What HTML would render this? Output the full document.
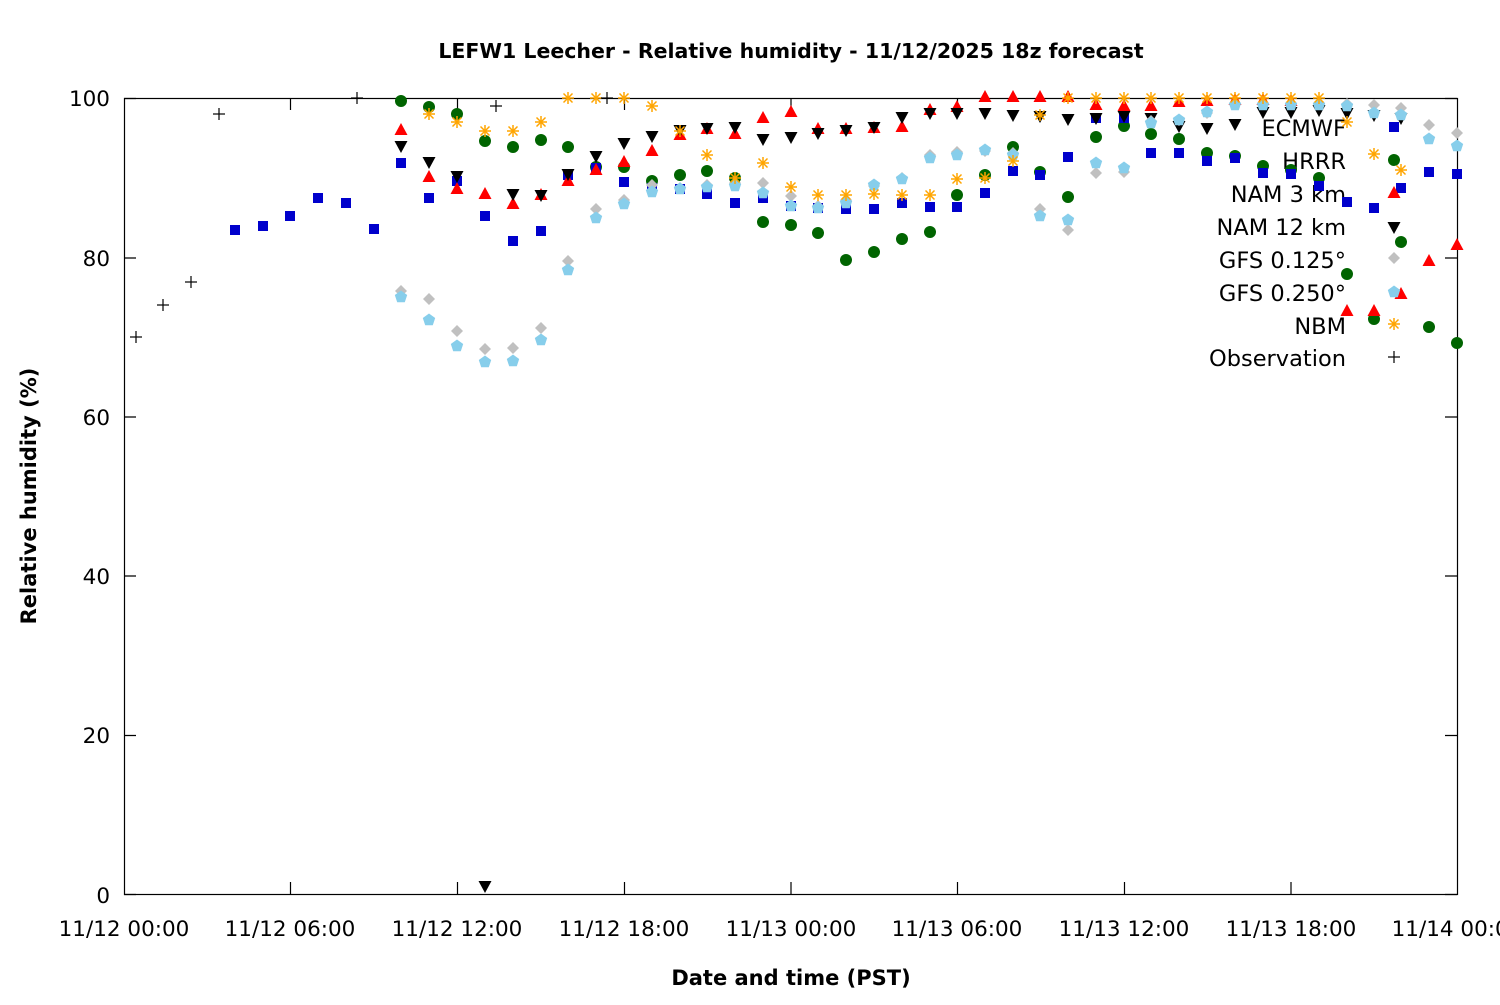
<!DOCTYPE html>
<html><head><meta charset="utf-8"><style>
html,body{margin:0;padding:0;background:#fff;}
svg text{font-family:"DejaVu Sans","Liberation Sans",sans-serif;}
</style></head><body>
<svg width="1500" height="1000" viewBox="0 0 1500 1000" xmlns="http://www.w3.org/2000/svg">
<defs>
<circle id="c" r="6" fill="#006400"/>
<rect id="s" x="-5" y="-5" width="10" height="10" fill="#0000cc"/>
<polygon id="u" points="0,-7 6.5,5 -6.5,5" fill="#ff0000"/>
<polygon id="d" points="0,7 6.5,-5 -6.5,-5" fill="#000"/>
<polygon id="g" points="0,-6 6,0 0,6 -6,0" fill="#c0c0c0"/>
<polygon id="p" points="0,-6.5 6.2,-2 3.8,5.3 -3.8,5.3 -6.2,-2" fill="#87ceeb"/>
<g id="x" stroke="#ffa500" stroke-width="1.5"><line x1="-6" y1="0" x2="6" y2="0"/><line x1="0" y1="-6" x2="0" y2="6"/><line x1="-4.5" y1="-4.5" x2="4.5" y2="4.5"/><line x1="-4.5" y1="4.5" x2="4.5" y2="-4.5"/></g>
<g id="o" stroke="#000" stroke-width="1.2"><line x1="-6" y1="0" x2="6" y2="0"/><line x1="0" y1="-6" x2="0" y2="6"/></g>
</defs>
<text x="791" y="58" font-size="20.5" font-weight="bold" text-anchor="middle">LEFW1 Leecher - Relative humidity - 11/12/2025 18z forecast</text>
<g stroke="#000" stroke-width="1.2" fill="none">
<rect x="124.5" y="98.5" width="1333" height="796"/>
<path d="M124 98.5h12M124 258h12M124 417h12M124 576h12M124 735.5h12M124 894.5h12M1457 98.5h-12M1457 258h-12M1457 417h-12M1457 576h-12M1457 735.5h-12M1457 894.5h-12"/>
<path d="M290.5 894v-12M457.5 894v-12M624.5 894v-12M791 894v-12M957.5 894v-12M1124.5 894v-12M1291 894v-12M290.5 98v12M457.5 98v12M624.5 98v12M791 98v12M957.5 98v12M1124.5 98v12M1291 98v12"/>
</g>
<g font-size="21.5" text-anchor="end">
<text x="110" y="106">100</text><text x="110" y="266">80</text><text x="110" y="425">60</text><text x="110" y="584">40</text><text x="110" y="743">20</text><text x="110" y="903">0</text>
</g>
<g font-size="21.5" text-anchor="middle">
<text x="124" y="936">11/12 00:00</text><text x="290" y="936">11/12 06:00</text><text x="457" y="936">11/12 12:00</text><text x="624" y="936">11/12 18:00</text><text x="791" y="936">11/13 00:00</text><text x="957" y="936">11/13 06:00</text><text x="1124" y="936">11/13 12:00</text><text x="1291" y="936">11/13 18:00</text><text x="1457" y="936">11/14 00:00</text>
</g>
<text x="791" y="985" font-size="21" font-weight="bold" text-anchor="middle">Date and time (PST)</text>
<text transform="translate(36,496) rotate(-90)" font-size="21" font-weight="bold" text-anchor="middle">Relative humidity (%)</text>
<g font-size="22.5" text-anchor="end">
<text x="1346" y="136">ECMWF</text><text x="1346" y="169">HRRR</text><text x="1346" y="202">NAM 3 km</text><text x="1346" y="235">NAM 12 km</text><text x="1346" y="268">GFS 0.125°</text><text x="1346" y="301">GFS 0.250°</text><text x="1346" y="334">NBM</text><text x="1346" y="366">Observation</text>
</g>
<!-- ECMWF -->
<g>
<use href="#c" x="401" y="101"/><use href="#c" x="429" y="107"/><use href="#c" x="457" y="114"/><use href="#c" x="485" y="141"/><use href="#c" x="513" y="147"/><use href="#c" x="541" y="140"/><use href="#c" x="568" y="147"/><use href="#c" x="596" y="167"/><use href="#c" x="624" y="167"/><use href="#c" x="652" y="181"/><use href="#c" x="680" y="175"/><use href="#c" x="707" y="171"/><use href="#c" x="735" y="178"/><use href="#c" x="763" y="222"/><use href="#c" x="791" y="225"/><use href="#c" x="818" y="233"/><use href="#c" x="846" y="260"/><use href="#c" x="874" y="252"/><use href="#c" x="902" y="239"/><use href="#c" x="930" y="232"/><use href="#c" x="957" y="195"/><use href="#c" x="985" y="175"/><use href="#c" x="1013" y="147"/><use href="#c" x="1040" y="172"/><use href="#c" x="1068" y="197"/><use href="#c" x="1096" y="137"/><use href="#c" x="1124" y="126"/><use href="#c" x="1151" y="134"/><use href="#c" x="1179" y="139"/><use href="#c" x="1207" y="153"/><use href="#c" x="1235" y="156"/><use href="#c" x="1263" y="166"/><use href="#c" x="1291" y="170"/><use href="#c" x="1319" y="178"/><use href="#c" x="1347" y="274"/><use href="#c" x="1374" y="319"/><use href="#c" x="1401" y="242"/><use href="#c" x="1429" y="327"/><use href="#c" x="1457" y="343"/><use href="#c" x="1394" y="160"/>
</g>
<!-- HRRR -->
<g>
<use href="#s" x="235" y="230"/><use href="#s" x="263" y="226"/><use href="#s" x="290" y="216"/><use href="#s" x="318" y="198"/><use href="#s" x="346" y="203"/><use href="#s" x="374" y="229"/><use href="#s" x="401" y="163"/><use href="#s" x="429" y="198"/><use href="#s" x="457" y="181"/><use href="#s" x="485" y="216"/><use href="#s" x="513" y="241"/><use href="#s" x="541" y="231"/><use href="#s" x="568" y="175"/><use href="#s" x="596" y="168"/><use href="#s" x="624" y="182"/><use href="#s" x="652" y="188"/><use href="#s" x="680" y="189"/><use href="#s" x="707" y="194"/><use href="#s" x="735" y="203"/><use href="#s" x="763" y="198"/><use href="#s" x="791" y="206"/><use href="#s" x="818" y="208"/><use href="#s" x="846" y="209"/><use href="#s" x="874" y="209"/><use href="#s" x="902" y="203"/><use href="#s" x="930" y="207"/><use href="#s" x="957" y="207"/><use href="#s" x="985" y="193"/><use href="#s" x="1013" y="171"/><use href="#s" x="1040" y="175"/><use href="#s" x="1068" y="157"/><use href="#s" x="1096" y="118"/><use href="#s" x="1124" y="118"/><use href="#s" x="1151" y="153"/><use href="#s" x="1179" y="153"/><use href="#s" x="1207" y="161"/><use href="#s" x="1235" y="158"/><use href="#s" x="1263" y="173"/><use href="#s" x="1291" y="174"/><use href="#s" x="1319" y="186"/><use href="#s" x="1347" y="202"/><use href="#s" x="1374" y="208"/><use href="#s" x="1401" y="188"/><use href="#s" x="1429" y="172"/><use href="#s" x="1457" y="174"/><use href="#s" x="1394" y="127"/>
</g>
<!-- NAM 3km -->
<g>
<use href="#u" x="401" y="130"/><use href="#u" x="429" y="177"/><use href="#u" x="457" y="189"/><use href="#u" x="485" y="194"/><use href="#u" x="513" y="204"/><use href="#u" x="541" y="195"/><use href="#u" x="568" y="181"/><use href="#u" x="596" y="170"/><use href="#u" x="624" y="162"/><use href="#u" x="652" y="151"/><use href="#u" x="680" y="135"/><use href="#u" x="707" y="129"/><use href="#u" x="735" y="134"/><use href="#u" x="763" y="118"/><use href="#u" x="791" y="112"/><use href="#u" x="818" y="129"/><use href="#u" x="846" y="129"/><use href="#u" x="874" y="128"/><use href="#u" x="902" y="127"/><use href="#u" x="930" y="110"/><use href="#u" x="957" y="107"/><use href="#u" x="985" y="97"/><use href="#u" x="1013" y="97"/><use href="#u" x="1040" y="97"/><use href="#u" x="1068" y="97"/><use href="#u" x="1096" y="105"/><use href="#u" x="1124" y="106"/><use href="#u" x="1151" y="106"/><use href="#u" x="1179" y="102"/><use href="#u" x="1207" y="101"/><use href="#u" x="1235" y="100"/><use href="#u" x="1263" y="100"/><use href="#u" x="1291" y="101"/><use href="#u" x="1347" y="311"/><use href="#u" x="1374" y="311"/><use href="#u" x="1401" y="294"/><use href="#u" x="1429" y="261"/><use href="#u" x="1457" y="245"/><use href="#u" x="1394" y="193"/>
</g>
<!-- NAM 12km -->
<g>
<use href="#d" x="401" y="146"/><use href="#d" x="429" y="162"/><use href="#d" x="457" y="176"/><use href="#d" x="485" y="886"/><use href="#d" x="513" y="194"/><use href="#d" x="541" y="195"/><use href="#d" x="568" y="174"/><use href="#d" x="596" y="156"/><use href="#d" x="624" y="143"/><use href="#d" x="652" y="136"/><use href="#d" x="680" y="130"/><use href="#d" x="707" y="128"/><use href="#d" x="735" y="127"/><use href="#d" x="763" y="139"/><use href="#d" x="791" y="137"/><use href="#d" x="818" y="133"/><use href="#d" x="846" y="130"/><use href="#d" x="874" y="127"/><use href="#d" x="902" y="117"/><use href="#d" x="930" y="113"/><use href="#d" x="957" y="113"/><use href="#d" x="985" y="113"/><use href="#d" x="1013" y="115"/><use href="#d" x="1040" y="116"/><use href="#d" x="1068" y="119"/><use href="#d" x="1096" y="118"/><use href="#d" x="1124" y="116"/><use href="#d" x="1151" y="118"/><use href="#d" x="1179" y="126"/><use href="#d" x="1207" y="128"/><use href="#d" x="1235" y="124"/><use href="#d" x="1263" y="112"/><use href="#d" x="1291" y="112"/><use href="#d" x="1319" y="110"/><use href="#d" x="1347" y="113"/><use href="#d" x="1374" y="115"/><use href="#d" x="1401" y="118"/><use href="#d" x="1394" y="227"/>
</g>
<!-- GFS 0.125 -->
<g>
<use href="#g" x="401" y="291"/><use href="#g" x="429" y="299"/><use href="#g" x="457" y="331"/><use href="#g" x="485" y="349"/><use href="#g" x="513" y="348"/><use href="#g" x="541" y="328"/><use href="#g" x="568" y="261"/><use href="#g" x="596" y="209"/><use href="#g" x="624" y="200"/><use href="#g" x="652" y="185"/><use href="#g" x="680" y="188"/><use href="#g" x="707" y="185"/><use href="#g" x="735" y="183"/><use href="#g" x="763" y="183"/><use href="#g" x="791" y="196"/><use href="#g" x="818" y="206"/><use href="#g" x="846" y="200"/><use href="#g" x="874" y="186"/><use href="#g" x="902" y="178"/><use href="#g" x="930" y="155"/><use href="#g" x="957" y="152"/><use href="#g" x="985" y="151"/><use href="#g" x="1013" y="153"/><use href="#g" x="1040" y="209"/><use href="#g" x="1068" y="230"/><use href="#g" x="1096" y="173"/><use href="#g" x="1124" y="172"/><use href="#g" x="1151" y="121"/><use href="#g" x="1179" y="120"/><use href="#g" x="1207" y="113"/><use href="#g" x="1235" y="104"/><use href="#g" x="1263" y="104"/><use href="#g" x="1291" y="104"/><use href="#g" x="1319" y="104"/><use href="#g" x="1347" y="104"/><use href="#g" x="1374" y="105"/><use href="#g" x="1401" y="108"/><use href="#g" x="1429" y="125"/><use href="#g" x="1457" y="133"/><use href="#g" x="1394" y="258"/>
</g>
<!-- GFS 0.25 -->
<g>
<use href="#p" x="401" y="297"/><use href="#p" x="429" y="320"/><use href="#p" x="457" y="346"/><use href="#p" x="485" y="362"/><use href="#p" x="513" y="361"/><use href="#p" x="541" y="340"/><use href="#p" x="568" y="270"/><use href="#p" x="596" y="218"/><use href="#p" x="624" y="204"/><use href="#p" x="652" y="192"/><use href="#p" x="680" y="189"/><use href="#p" x="707" y="187"/><use href="#p" x="735" y="186"/><use href="#p" x="763" y="193"/><use href="#p" x="791" y="206"/><use href="#p" x="818" y="208"/><use href="#p" x="846" y="203"/><use href="#p" x="874" y="185"/><use href="#p" x="902" y="179"/><use href="#p" x="930" y="158"/><use href="#p" x="957" y="155"/><use href="#p" x="985" y="150"/><use href="#p" x="1013" y="155"/><use href="#p" x="1040" y="216"/><use href="#p" x="1068" y="220"/><use href="#p" x="1096" y="163"/><use href="#p" x="1124" y="168"/><use href="#p" x="1151" y="123"/><use href="#p" x="1179" y="120"/><use href="#p" x="1207" y="112"/><use href="#p" x="1235" y="105"/><use href="#p" x="1263" y="105"/><use href="#p" x="1291" y="105"/><use href="#p" x="1319" y="105"/><use href="#p" x="1347" y="106"/><use href="#p" x="1374" y="113"/><use href="#p" x="1401" y="115"/><use href="#p" x="1429" y="139"/><use href="#p" x="1457" y="146"/><use href="#p" x="1394" y="292"/>
</g>
<!-- NBM -->
<g>
<use href="#x" x="429" y="114"/><use href="#x" x="457" y="122"/><use href="#x" x="485" y="131"/><use href="#x" x="513" y="131"/><use href="#x" x="541" y="122"/><use href="#x" x="568" y="98"/><use href="#x" x="596" y="98"/><use href="#x" x="624" y="98"/><use href="#x" x="652" y="106"/><use href="#x" x="680" y="131"/><use href="#x" x="707" y="155"/><use href="#x" x="735" y="178"/><use href="#x" x="763" y="163"/><use href="#x" x="791" y="187"/><use href="#x" x="818" y="195"/><use href="#x" x="846" y="195"/><use href="#x" x="874" y="194"/><use href="#x" x="902" y="195"/><use href="#x" x="930" y="195"/><use href="#x" x="957" y="179"/><use href="#x" x="985" y="178"/><use href="#x" x="1013" y="161"/><use href="#x" x="1040" y="115"/><use href="#x" x="1068" y="98"/><use href="#x" x="1096" y="98"/><use href="#x" x="1124" y="98"/><use href="#x" x="1151" y="98"/><use href="#x" x="1179" y="98"/><use href="#x" x="1207" y="98"/><use href="#x" x="1235" y="98"/><use href="#x" x="1263" y="98"/><use href="#x" x="1291" y="98"/><use href="#x" x="1319" y="98"/><use href="#x" x="1347" y="122"/><use href="#x" x="1374" y="154"/><use href="#x" x="1401" y="170"/><use href="#x" x="1394" y="324"/>
</g>
<!-- Observation -->
<g>
<use href="#o" x="136" y="337"/><use href="#o" x="163" y="305"/><use href="#o" x="191" y="282"/><use href="#o" x="219" y="114"/><use href="#o" x="357" y="98"/><use href="#o" x="496" y="106"/><use href="#o" x="607" y="98"/><use href="#o" x="1394" y="357"/>
</g>
</svg>
</body></html>
